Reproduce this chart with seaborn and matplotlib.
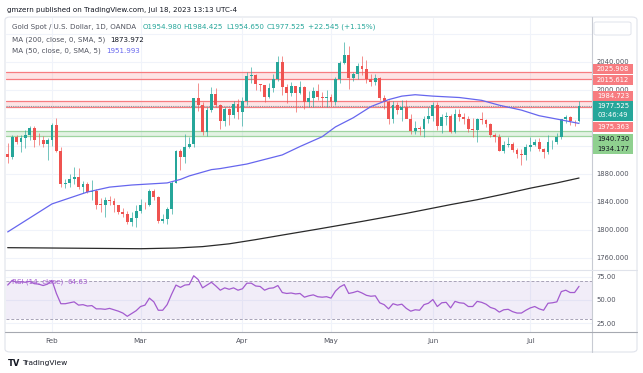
import numpy as np
import pandas as pd
import matplotlib
matplotlib.use("Agg")
import matplotlib.pyplot as plt
import seaborn as sns
from matplotlib.patches import Rectangle, FancyBboxPatch
from matplotlib.lines import Line2D

# daily bars, XAUUSD (OANDA), Jan 18 - Jul 18 2023
dates = pd.bdate_range("2023-01-18", "2023-07-18")

opens = [1908, 1904, 1932, 1926, 1931, 1936, 1946, 1929, 1928, 1923,
         1928, 1950, 1912, 1865, 1867, 1872, 1875, 1861, 1865, 1854,
         1855, 1836.5, 1836, 1842, 1841, 1835, 1825, 1822, 1811, 1817,
         1827, 1836, 1835, 1855, 1847, 1813, 1815, 1830, 1867, 1913,
         1904, 1918, 1922, 1988, 1978, 1940, 1971, 1994, 1978, 1956,
         1973, 1964, 1980, 1969, 1984, 2020, 2021, 2008, 2007, 1990,
         2003, 2015, 2040, 2004, 1995, 2005, 1995, 2004, 1983, 1989,
         1998, 1990, 1988, 1990, 1983, 2016, 2039, 2050, 2017, 2022,
         2034, 2030, 2015, 2011, 2017, 1989, 1982, 1958, 1978, 1971,
         1975, 1958, 1941, 1946, 1944, 1958, 1963, 1978, 1948, 1961,
         1963, 1940, 1966, 1961, 1958, 1944, 1943, 1958, 1957, 1951,
         1936, 1932, 1913, 1921, 1923, 1914, 1908, 1907, 1919, 1921,
         1926, 1915, 1911, 1925, 1925.5, 1932, 1958, 1961, 1955, 1954.98]
highs = [1924, 1935, 1935, 1935, 1942, 1949, 1949, 1938, 1934, 1931,
         1952, 1960, 1918, 1872, 1880, 1890, 1888, 1870, 1868, 1871,
         1858, 1845, 1847, 1848, 1846, 1836, 1831, 1827, 1825, 1836,
         1844, 1840, 1858, 1858, 1848, 1823, 1833, 1870, 1914, 1915,
         1937, 1932, 1989, 2010, 1983, 1975, 2004, 2003, 1980, 1975,
         1974, 1984, 1987, 1990, 2025, 2032, 2022, 2009, 2007, 2010,
         2022, 2048, 2048, 2009, 2011, 2006, 2012, 2006, 1999, 2004,
         2009, 1997, 2000, 1994, 2019, 2041, 2068, 2062, 2026, 2038,
         2048, 2043, 2022, 2022, 2019, 1993, 1985, 1984, 1983, 1985,
         1985, 1965, 1956, 1948, 1962, 1975, 1983, 1983, 1965, 1968,
         1966, 1972, 1973, 1967, 1963, 1960, 1960, 1969, 1958, 1953,
         1938, 1937, 1927, 1933, 1925, 1917, 1915, 1922, 1932, 1930,
         1931, 1917, 1935, 1929, 1938, 1959, 1964, 1963, 1957, 1984.425]
lows = [1896, 1901, 1922, 1911, 1917, 1928, 1918, 1921, 1918, 1900,
        1920, 1911, 1861, 1860, 1861, 1866, 1859, 1853, 1852, 1843,
        1830, 1826, 1818, 1836, 1826, 1822, 1818, 1809, 1805, 1804,
        1824, 1830, 1834, 1843, 1810, 1810, 1809, 1822, 1867, 1885,
        1896, 1917, 1918, 1970, 1935, 1934, 1968, 1976, 1944, 1949,
        1950, 1960, 1959, 1949, 1979, 2010, 2000, 1998, 1982, 1989,
        1997, 2012, 1992, 1981, 1991, 1969, 1994, 1972, 1976, 1975,
        1985, 1975, 1976, 1977, 1978, 2010, 2037, 2001, 2012, 2016,
        2021, 2010, 2005, 2007, 1986, 1972, 1951, 1952, 1966, 1955,
        1962, 1937, 1937, 1936, 1932, 1952, 1956, 1942, 1938, 1950,
        1939, 1938, 1955, 1951, 1940, 1932, 1925, 1951, 1947, 1932,
        1925, 1912, 1910, 1918, 1911, 1902, 1893, 1900, 1913, 1920,
        1912, 1902, 1908, 1915, 1923, 1930, 1952, 1950, 1949, 1954.65]
closes = [1904, 1932, 1926, 1931, 1936, 1946, 1929, 1928, 1923, 1928,
          1950, 1912, 1865, 1867, 1872, 1875, 1861, 1865, 1854, 1855,
          1836, 1835.5, 1842, 1841, 1835, 1825, 1822, 1811, 1817, 1827,
          1836, 1835, 1855, 1847, 1813, 1815, 1830, 1867, 1913, 1904,
          1918, 1922, 1988, 1978, 1940, 1971, 1994, 1978, 1956, 1973,
          1964, 1980, 1969, 1984, 2020, 2021, 2008, 2007, 1990, 2003,
          2015, 2040, 2004, 1995, 2005, 1995, 2004, 1983, 1989, 1998,
          1990, 1988, 1990, 1983, 2016, 2039, 2050, 2017, 2022, 2034,
          2030, 2015, 2011, 2017, 1989, 1982, 1958, 1978, 1971, 1975,
          1958, 1941, 1946, 1944, 1958, 1963, 1978, 1948, 1961, 1963,
          1940, 1966, 1961, 1958, 1944, 1943, 1958, 1957, 1951, 1936,
          1932, 1913, 1921, 1923, 1914, 1908, 1907, 1919, 1921, 1926,
          1915, 1911, 1925, 1925.5, 1932, 1958, 1961, 1955, 1954.98, 1977.525]

# moving averages (bar index -> value)
ma50_bar = [0, 4, 10, 18, 23, 28, 36, 39, 41, 46, 48, 54, 62, 66, 71, 74, 78,
            82, 86, 89, 92, 96, 102, 107, 111, 116, 120, 125, 129]
ma50_val = [1797, 1813, 1837, 1854, 1861, 1864, 1867, 1872, 1877, 1886, 1887.5,
            1894, 1907, 1919, 1933, 1947, 1960, 1976, 1986, 1991, 1993, 1991,
            1989, 1985, 1978, 1971, 1963, 1957, 1952]
ma200_bar = [0, 10, 20, 30, 38, 44, 50, 56, 62, 70, 80, 90, 100, 106, 112,
             118, 124, 129]
ma200_val = [1774.5, 1774, 1773.5, 1773, 1774, 1776, 1780, 1786, 1792.5, 1801,
             1812, 1823.5, 1836, 1843, 1851, 1859.5, 1867, 1874]

# RSI(14), one value per bar
rsi_val = [66, 71, 69, 69.5, 69, 70, 67.5, 67, 65.5, 67,
           71, 57, 46, 46, 47, 48, 44.5, 45, 43.5, 44,
           40.5, 40.5, 40, 41, 39.5, 38, 36, 32.5, 35.5, 38.5,
           43, 44.5, 52, 48, 39, 39, 45, 56, 66, 63.5,
           66, 66.5, 76, 72, 63, 66, 69, 65, 60.5, 63,
           61.5, 63, 60.5, 62, 68, 68, 65, 64.5, 60.5, 62.5,
           63, 65.5, 58, 57, 57.5, 56.5, 57, 53, 54.5, 55.5,
           53.5, 53, 53.5, 52, 59.5, 64, 66.5, 57, 58, 59.5,
           57.5, 55, 54, 54.5, 47, 45, 40.5, 46, 44.5, 45.5,
           41, 38, 39.5, 39, 45, 46.5, 50.5, 43, 47, 47.5,
           41.5, 48.5, 47, 46.5, 43, 43, 48.5, 47.5, 45.5, 42,
           40.5, 37, 39.5, 40, 37.5, 36, 36, 39, 41.5, 43,
           40.5, 39, 46.5, 47, 48, 59, 60.5, 58, 58, 64.63]

red_zones = [(2015.612, 2025.908), (1975.363, 1984.723)]
green_zone = (1934.177, 1940.730)
last_price = 1977.525
price_ticks = [1760, 1800, 1840, 1880, 1920, 1960, 2000, 2040, 2080]
covered_ticks = [1920, 1960, 2080]   # hidden behind the price-scale labels
month_names = ["Feb", "Mar", "Apr", "May", "Jun", "Jul"]

GREEN = "#26a69a"
RED = "#ef5350"
BLUE = "#6666ee"
PURPLE = "#a35bcf"
TXT = "#131722"
GREY = "#50535e"

sns.set_style("white")
plt.rcParams["font.family"] = ["DejaVu Sans"]

W, H = 643, 373
fig = plt.figure(figsize=(W / 100, H / 100), dpi=100)


def fx(x):
    return x / W


def fy(y):
    return 1 - y / H


ax = fig.add_axes([fx(6), fy(270), fx(592) - fx(6), fy(18) - fy(270)])
axr = fig.add_axes([fx(6), fy(331.7), fx(592) - fx(6), fy(270) - fy(331.7)], sharex=ax)

df = pd.DataFrame({"bar": np.arange(len(dates)), "open": opens, "high": highs,
                   "low": lows, "close": closes})
up = df["close"] >= df["open"]
colors = np.where(up, GREEN, RED)
month_first = [int(np.argmax(dates.month == m)) for m in range(2, 8)]

# zones
for lo, hi in red_zones:
    ax.axhspan(lo, hi, color="#f77c80", alpha=0.2, lw=0, zorder=1)
    for v in (lo, hi):
        ax.axhline(v, color="#f77c80", lw=0.9, zorder=1.2)
ax.axhspan(green_zone[0], green_zone[1], color="#81c784", alpha=0.22, lw=0, zorder=1)
for v in green_zone:
    ax.axhline(v, color="#9fd4a1", lw=0.9, zorder=1.2)
ax.axhline(last_price, color="#8a9aa0", lw=0.8, ls=(0, (1, 1)), zorder=1.3)

# candles
ax.vlines(df["bar"], df["low"], df["high"], colors=colors, lw=0.7, alpha=0.65, zorder=2)
body = (df["close"] - df["open"]).abs().clip(lower=0.8)
ax.bar(df["bar"], body, bottom=np.minimum(df["open"], df["close"]), width=0.66,
       color=colors, lw=0, zorder=3)

sns.lineplot(x=ma200_bar, y=ma200_val, ax=ax, color="#2a2a2a", lw=0.9, zorder=4)
sns.lineplot(x=ma50_bar, y=ma50_val, ax=ax, color=BLUE, lw=0.9, zorder=4)

ax.set_xlim(-0.38, 131.93)
ax.set_ylim(1742.6, 2102.6)
ax.set_yticks(price_ticks)
ax.set_yticklabels(["" if t in covered_ticks else f"{t:.3f}" for t in price_ticks])
ax.yaxis.tick_right()
ax.tick_params(axis="y", length=0, pad=3, labelsize=4.9, labelcolor=GREY)
ax.tick_params(axis="x", length=0, labelbottom=False)
ax.set_xticks(month_first)
ax.grid(True, color="#f0f3fa", lw=0.8)
ax.set_xlabel("")
ax.set_ylabel("")
for s in ax.spines.values():
    s.set_visible(False)

# RSI pane
axr.axhspan(30, 70, color="#7e57c2", alpha=0.1, lw=0)
for v in (70, 30):
    axr.axhline(v, color="#a8a3b8", lw=0.7, ls=(0, (3, 2)))
sns.lineplot(x=df["bar"], y=rsi_val, ax=axr, color=PURPLE, lw=0.9)
axr.set_ylim(16.0, 82.15)
axr.set_yticks([25, 50, 75])
axr.set_yticklabels(["25.00", "50.00", "75.00"])
axr.yaxis.tick_right()
axr.tick_params(axis="y", length=0, pad=3, labelsize=4.9, labelcolor=GREY)
axr.set_xticks(month_first)
axr.set_xticklabels(month_names)
axr.tick_params(axis="x", length=0, pad=4.5, labelsize=5.1, labelcolor=GREY)
axr.grid(True, color="#f0f3fa", lw=0.8)
axr.set_xlabel("")
axr.set_ylabel("")
for s in axr.spines.values():
    s.set_visible(False)

# frame and separators
fig.patches.append(FancyBboxPatch((fx(5), fy(352)), fx(637) - fx(5), fy(17) - fy(352),
                                  boxstyle="round,pad=0,rounding_size=0.008",
                                  transform=fig.transFigure, fill=False,
                                  ec="#e0e3eb", lw=0.8))
fig.lines.append(Line2D([fx(592), fx(592)], [fy(17), fy(352)], transform=fig.transFigure,
                        color="#c8cbd3", lw=0.8))
fig.lines.append(Line2D([fx(5), fx(637)], [fy(270), fy(270)], transform=fig.transFigure,
                        color="#e0e3eb", lw=0.8))
fig.lines.append(Line2D([fx(5), fx(637)], [fy(331.7), fy(331.7)], transform=fig.transFigure,
                        color="#a6a9b1", lw=0.8))

# price scale labels (stacked as on the chart)
fig.canvas.draw()
scale_labels = [(2025.908, "#f77c80", "white", -3),
                (2015.612, "#f77c80", "white", 1.5),
                (1984.723, "#f77c80", "white", -5),
                (1975.363, "#f77c80", "white", 20),
                (1940.730, "#8fd08f", TXT, 7.7),
                (1934.177, "#8fd08f", TXT, 13)]
for price, bg, fg, shift in scale_labels:
    yc = H - ax.transData.transform((0, price))[1] + shift
    fig.patches.append(Rectangle((fx(593), fy(yc + 5)), fx(633) - fx(593), fy(yc - 5) - fy(yc + 5),
                                 transform=fig.transFigure, fc=bg, ec="none", zorder=5))
    fig.text(fx(613), fy(yc), f"{price:.3f}", color=fg, fontsize=4.9, ha="center",
             va="center", zorder=6)
yc = H - ax.transData.transform((0, last_price))[1]
fig.patches.append(Rectangle((fx(593), fy(yc + 15)), fx(633) - fx(593), 20 / H,
                             transform=fig.transFigure, fc=GREEN, ec="none", zorder=5))
fig.text(fx(613), fy(yc), f"{last_price:.3f}", color="white", fontsize=4.9, ha="center",
         va="center", zorder=6)
fig.text(fx(613), fy(yc + 9), "03:46:49", color="white", fontsize=4.9, ha="center",
         va="center", zorder=6)
fig.patches.append(FancyBboxPatch((fx(594), fy(35)), fx(631) - fx(594), fy(22) - fy(35),
                                  boxstyle="round,pad=0,rounding_size=0.004",
                                  transform=fig.transFigure, fc="white", ec="#e0e3eb",
                                  lw=0.7, zorder=5))

# header and legends
fs = 5.1
fig.text(fx(7), fy(10), "gmzern published on TradingView.com, Jul 18, 2023 13:13 UTC-4",
         fontsize=fs, color=TXT, va="center")
fig.text(fx(12), fy(27), "Gold Spot / U.S. Dollar, 1D, OANDA", fontsize=fs, color=GREY, va="center")
for xp, s in [(143, "O1954.980"), (183, "H1984.425"), (226, "L1954.650"),
              (266.7, "C1977.525"), (308, "+22.545 (+1.15%)")]:
    fig.text(fx(xp), fy(27), s, fontsize=fs, color=GREEN, va="center")
fig.text(fx(12), fy(39.5), "MA (200, close, 0, SMA, 5)", fontsize=fs, color=GREY, va="center")
fig.text(fx(110), fy(39.5), "1873.972", fontsize=fs, color=TXT, va="center")
fig.text(fx(12), fy(51), "MA (50, close, 0, SMA, 5)", fontsize=fs, color=GREY, va="center")
fig.text(fx(106), fy(51), "1951.993", fontsize=fs, color=BLUE, va="center")
fig.text(fx(12), fy(281.5), "RSI (14, close)", fontsize=fs, color=PURPLE, va="center")
fig.text(fx(68), fy(281.5), "64.63", fontsize=fs, color=PURPLE, va="center")

fig.text(fx(8), fy(363), "TV", fontsize=6, color=TXT, va="center", fontweight="bold")
fig.text(fx(22), fy(363), "TradingView", fontsize=5.4, color=TXT, va="center")

fig.savefig("out.png", dpi=100)
